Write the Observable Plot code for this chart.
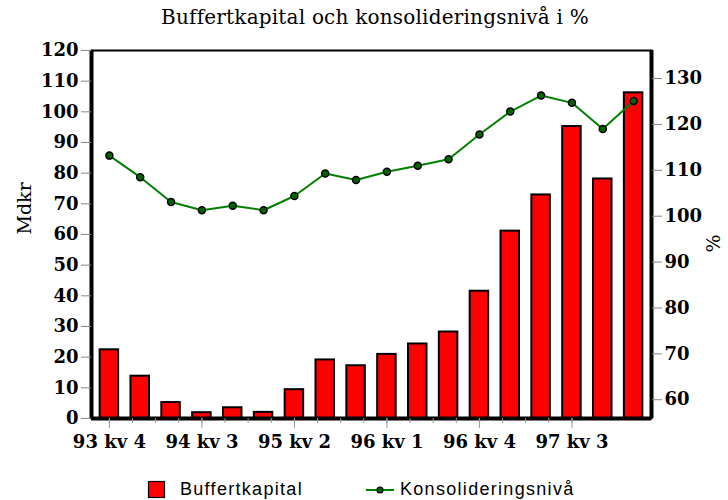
<!DOCTYPE html>
<html>
<head>
<meta charset="utf-8">
<script src="https://cdn.jsdelivr.net/npm/d3@7"></script>
<script src="https://cdn.jsdelivr.net/npm/@observablehq/plot@0.6"></script>
<style>
  html, body { margin: 0; padding: 0; background: #fff; }
  #wrap { position: relative; width: 728px; height: 500px; overflow: hidden; }
  #title { position: absolute; left: 0; top: 0; width: 750px; height: 34px; line-height: 34px;
           text-align: center; font-family: "DejaVu Serif", serif; font-size: 20px; letter-spacing: 0.2px; color: #000; }
  #chart { position: absolute; left: 0; top: 34px; }
  #legend { position: absolute; left: 0; top: 476px; width: 728px; height: 26px;
            font-family: "Liberation Sans", Arial, sans-serif; font-size: 18px; color: #000; }
  .lg { position: absolute; top: 0; height: 26px; line-height: 26px; letter-spacing: 1.3px; white-space: nowrap; }
</style>
</head>
<body>
<div id="wrap">
  <div id="title">Buffertkapital och konsolideringsnivå i %</div>
  <div id="chart"></div>
  <div id="legend">
    <svg class="lg" style="left:146px" width="22" height="26"><rect x="2.5" y="5.5" width="16" height="16" fill="#ff0000" stroke="#000" stroke-width="1.2"/></svg>
    <span class="lg" style="left:180px">Buffertkapital</span>
    <svg class="lg" style="left:365px" width="32" height="26"><line x1="1" y1="14" x2="29" y2="14" stroke="#008000" stroke-width="2"/><circle cx="15" cy="14" r="3" fill="#006400" stroke="#000" stroke-width="1.2"/></svg>
    <span class="lg" style="left:400px">Konsolideringsnivå</span>
  </div>
</div>
<script>
// Quarters
const quarters = ["93 kv 4","94 kv 1","94 kv 2","94 kv 3","94 kv 4","95 kv 1","95 kv 2","95 kv 3","95 kv 4",
                  "96 kv 1","96 kv 2","96 kv 3","96 kv 4","97 kv 1","97 kv 2","97 kv 3","97 kv 4","98 kv 1"];
// Buffertkapital, Mdkr (left axis)
const buffert = [22.4, 13.8, 5.2, 1.9, 3.5, 2.0, 9.4, 19.1, 17.2, 20.9, 24.3, 28.2, 41.5, 61.1, 72.9, 95.2, 78.1, 106.2];
// Konsolideringsnivå, % (right axis)
const konsol = [113.2, 108.5, 103.1, 101.3, 102.3, 101.3, 104.4, 109.3, 107.9, 109.7, 111.0, 112.4, 117.8, 122.8, 126.3, 124.7, 119.0, 125.1];
// Axis ticks
const leftTicks = [0,10,20,30,40,50,60,70,80,90,100,110,120];
const rightTicks = [60,70,80,90,100,110,120,130];
const labelIdx = [0,3,6,9,12,15];
const minorIdx = d3.range(0, 15.001, 0.75);
// Scale domains
const leftDomain = [0, 120];
const rightDomain = [55.91, 136.11];
const xDomain = [-0.58, 17.58];

const FONT = "DejaVu Serif";
const toLeft = p => leftDomain[0] + (p - rightDomain[0]) / (rightDomain[1] - rightDomain[0]) * (leftDomain[1] - leftDomain[0]);
const fromLeft = v => rightDomain[0] + (v - leftDomain[0]) / (leftDomain[1] - leftDomain[0]) * (rightDomain[1] - rightDomain[0]);

const data = quarters.map((q, i) => ({q, i, v: buffert[i], p: konsol[i]}));

const chart = Plot.plot({
  width: 728,
  height: 436,
  marginLeft: 91,
  marginRight: 77,
  marginTop: 16,
  marginBottom: 52,
  style: {fontFamily: FONT, fontSize: "17px", color: "#000", background: "#fff"},
  x: {type: "linear", domain: xDomain, axis: null},
  y: {domain: leftDomain, axis: null},
  marks: [
    Plot.rectY(data, {x1: d => d.i - 0.3, x2: d => d.i + 0.3, y: "v", fill: "#ff0000", stroke: "#000", strokeWidth: 2}),
    Plot.line(data, {x: "i", y: d => toLeft(d.p), stroke: "#008000", strokeWidth: 2}),
    Plot.dot(data, {x: "i", y: d => toLeft(d.p), r: 3.5, fill: "#006400", stroke: "#000", strokeWidth: 1.5}),
    Plot.frame({stroke: "#000", strokeWidth: 2}),
    Plot.ruleX(xDomain, {stroke: "#000", strokeWidth: 4}),
    Plot.ruleY([leftDomain[0]], {stroke: "#000", strokeWidth: 4}),
    Plot.axisY(leftTicks, {anchor: "left", tickSize: 10, tickPadding: 3, stroke: "#888", fill: "#000",
      fontFamily: FONT, fontSize: 18, fontWeight: 600, label: null}),
    Plot.axisY(rightTicks.map(toLeft), {anchor: "right", tickSize: 10, tickPadding: 3, stroke: "#888", fill: "#000",
      fontFamily: FONT, fontSize: 18, fontWeight: 600, tickFormat: v => String(Math.round(fromLeft(v))), label: null}),
    Plot.axisX(minorIdx, {anchor: "bottom", tickSize: 5, stroke: "#999", tickFormat: () => "", label: null}),
    Plot.axisX(labelIdx, {anchor: "bottom", tickSize: 10, tickPadding: 7, stroke: "#999", fill: "#000",
      fontFamily: FONT, fontSize: 18, fontWeight: 600, tickFormat: i => quarters[i], label: null}),
    Plot.text(["Mdkr"], {frameAnchor: "left", dx: -67, rotate: -90, fontFamily: FONT, fontSize: 19, fill: "#000"}),
    Plot.text(["%"], {frameAnchor: "right", dx: 62, rotate: -90, fontFamily: FONT, fontSize: 19, fill: "#000"})
  ]
});
document.getElementById("chart").appendChild(chart);
</script>
</body>
</html>
